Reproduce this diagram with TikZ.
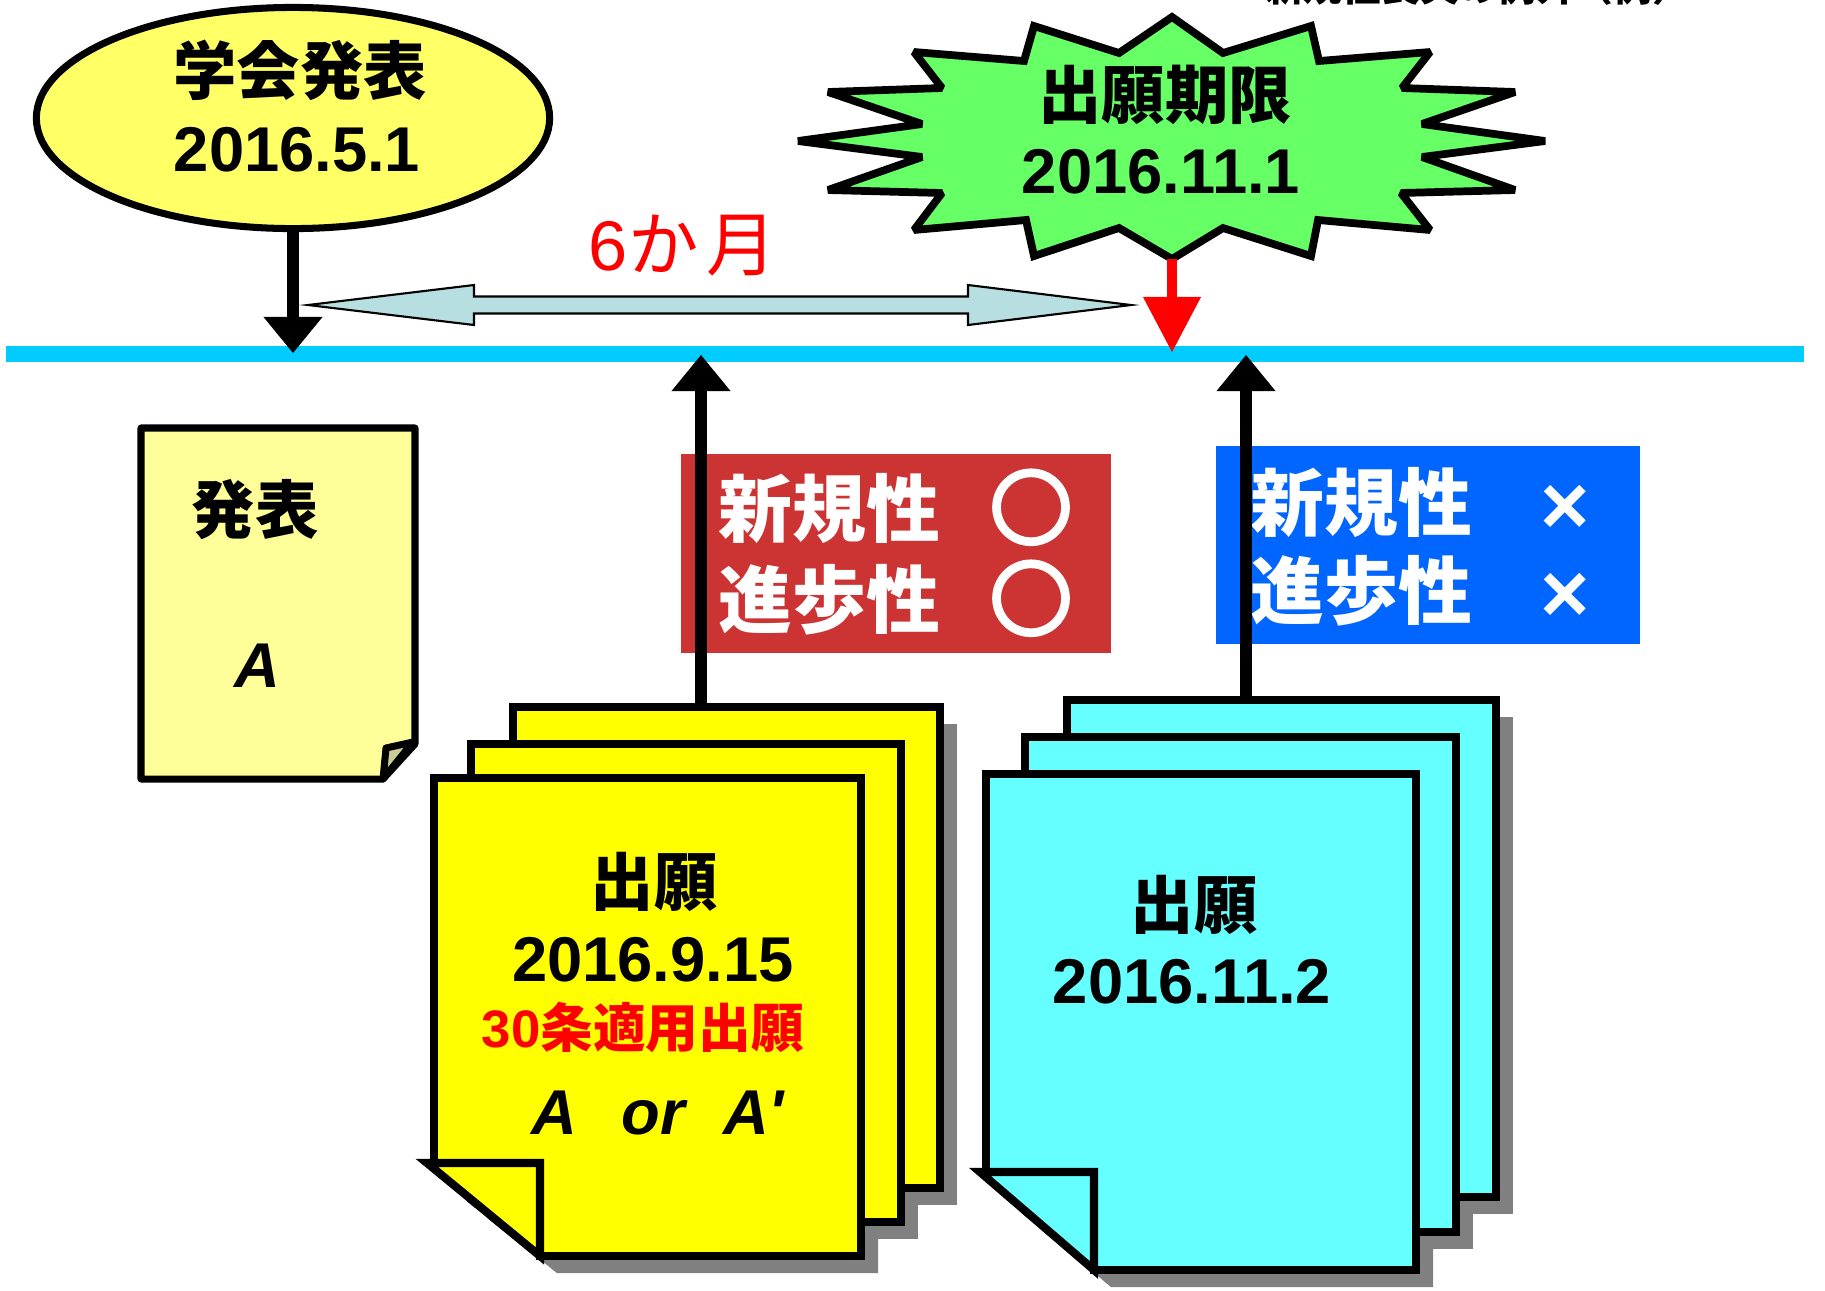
\documentclass[tikz,border=0pt]{standalone}
\usepackage{fontspec}
\setmainfont{Liberation Sans}
\newfontfamily\jp{Noto Sans CJK JP}
\newfontfamily\jpring{Noto Sans CJK JP}[FakeBold=6]
\usetikzlibrary{shapes.geometric, arrows.meta, positioning}

\definecolor{linecyan}{HTML}{00CCFF}
\definecolor{talkyellow}{HTML}{FFFF66}
\definecolor{limitgreen}{HTML}{66FF66}
\definecolor{spanblue}{HTML}{B7DEE0}
\definecolor{okred}{HTML}{CC3333}
\definecolor{ngblue}{HTML}{0066FF}
\definecolor{pubyellow}{HTML}{FFFF99}
\definecolor{pubflap}{HTML}{CCCC99}
\definecolor{appyellow}{HTML}{FFFF00}
\definecolor{appcyan}{HTML}{66FFFF}
\definecolor{shadowgray}{HTML}{808080}

\tikzset{
  datefont/.style={font=\fontsize{18}{22}\selectfont\bfseries, anchor=base, inner sep=0pt},
  boxfont/.style={font=\fontsize{21}{25}\selectfont\bfseries\jp, text=white, anchor=base west, inner sep=0pt},
  ringfont/.style={font=\fontsize{23}{27}\selectfont\bfseries\jpring, text=white, anchor=base, inner sep=0pt},
  markfont/.style={font=\fontsize{24}{28}\selectfont\bfseries, text=white, anchor=base, inner sep=0pt},
  sheet/.style={draw=black, line width=2.3pt, line join=miter},
  sheetshadow/.style={fill=shadowgray, shift={(17,17)}},
  timearrow/.style={line width=3.4pt, -{Triangle[width=0.59cm, length=0.36cm, line width=0pt]}}
}

\begin{document}
\begin{tikzpicture}[x=0.01cm, y=-0.01cm]
\useasboundingbox (0,0) rectangle (1825,1290);

% heading, only its foot shows at the top edge
\begin{scope}
\clip (0,0) rectangle (1825,1290);
\node[anchor=base, inner sep=0pt, font=\fontsize{11}{11}\selectfont\bfseries\jp] (heading) at (1478,1) {新規性喪失の例外（例）};
\end{scope}

% time line
\coordinate (tl0) at (6,354);
\coordinate (tl1) at (1804,354);
\draw[linecyan, line width=0.16cm] (tl0) -- (tl1);

% talk
\node[ellipse, draw, line width=2pt, fill=talkyellow, minimum width=5.13cm, minimum height=2.21cm, inner sep=0pt] (talk) at (293,118) {};
\node[datefont] (talkname) at (300,94) {\jp 学会発表};
\node[datefont] (talkdate) at (297,171) {2016.5.1};

% six months span
\coordinate (spanL) at (308,305);
\coordinate (spanR) at (1131,305);
\draw[fill=spanblue, line width=0.6pt] (spanL) -- ++(166,-20) -- ++(0,11.5) -- ++(494,0) -- ++(0,-11.5) -- (spanR) -- ++(-163,20) -- ++(0,-11.5) -- ++(-494,0) -- ++(0,11.5) -- cycle;
\node[anchor=base, inner sep=0pt, text=red, font=\fontsize{20}{24}\selectfont] (span) at (683,270) {6{\jp か\hspace{0.12em}月}};

% deadline
\draw[fill=limitgreen, line width=2.2pt, line join=miter, miter limit=2] (1172,17) -- (1223,53) -- (1311,26) -- (1319,61) -- (1430,52) -- (1402,88) -- (1515,92) -- (1422,124) -- (1545,141) -- (1422,157) -- (1515,190) -- (1401,193) -- (1430,230) -- (1318,220) -- (1311,256) -- (1223,228) -- (1172,259) -- (1119,228) -- (1034,256) -- (1026,220) -- (914,230) -- (942,193) -- (828,190) -- (922,157) -- (798,141) -- (922,124) -- (828,92) -- (942,88) -- (914,52) -- (1024,61) -- (1034,26) -- (1119,53) -- cycle;
\coordinate (limitfoot) at (1172,259);
\node[datefont] (limitname) at (1165,118) {\jp 出願期限};
\node[datefont] (limitdate) at (1161,193) {2016.11.1};

% verdict boxes
\node[fill=okred, minimum width=4.3cm, minimum height=1.99cm, inner sep=0pt, anchor=north west] (okbox) at (680,453) {};
\node[boxfont] (okA) at (718,536) {新規性};
\node[ringfont] (okAmark) at (1031,538) {○};
\node[boxfont] (okB) at (718,627) {進歩性};
\node[ringfont] (okBmark) at (1031,629) {○};

\node[fill=ngblue, minimum width=4.24cm, minimum height=1.98cm, inner sep=0pt, anchor=north west] (ngbox) at (1215,445) {};
\node[boxfont] (ngA) at (1250,530) {新規性};
\node[markfont] (ngAmark) at (1565,534) {×};
\node[boxfont] (ngB) at (1250,618) {進歩性};
\node[markfont] (ngBmark) at (1565,622) {×};

% published paper
\draw[fill=pubyellow, line width=2pt, line join=round] (141,428) -- (415,428) -- (415,744) -- (383,779) -- (141,779) -- cycle;
\draw[fill=pubflap, line width=2pt, line join=round] (386,748) -- (413,742) -- (383,779) -- cycle;
\node[datefont] (pubname) at (255,533) {\jp 発表};
\node[anchor=base, inner sep=0pt, font=\fontsize{18}{22}\selectfont\bfseries\itshape] (pubtext) at (257,687) {A};

% shadows of the applications
\fill[sheetshadow] (434,778) -- (861,778) -- (861,1256) -- (540,1256) -- (427,1163) -- cycle;
\fill[sheetshadow] (513,707) rectangle (940,1188);
\fill[sheetshadow] (471,744) rectangle (901,1222);
\fill[sheetshadow] (986,774) -- (1416,774) -- (1416,1270) -- (1094,1270) -- (980,1172) -- cycle;
\fill[sheetshadow] (1067,700) rectangle (1496,1197);
\fill[sheetshadow] (1025,737) rectangle (1456,1232);

% application within six months
\draw[sheet, fill=appyellow] (513,707) rectangle (940,1188);
\draw[sheet, fill=appyellow] (471,744) rectangle (901,1222);
\fill[white] (420,1163) -- (420,1275) -- (557,1275) -- cycle;
\fill[shadowgray] (427,1163) -- (444,1180) -- (557,1273) -- (540,1256) -- cycle;
\draw[sheet, fill=appyellow] (434,778) -- (861,778) -- (861,1256) -- (540,1256) -- (540,1163) -- (434,1163) -- cycle;
\draw[sheet, fill=appyellow] (427,1163) -- (540,1163) -- (540,1256) -- cycle;
\node[datefont] (appAname) at (654,905) {\jp 出願};
\node[datefont] (appAdate) at (653,981) {2016.9.15};
\node[anchor=base, inner sep=0pt, text=red, font=\fontsize{15}{18}\selectfont\bfseries] (appArule) at (643,1047) {30{\jp 条適用出願}};
\node[anchor=base, inner sep=0pt, font=\fontsize{18}{22}\selectfont\bfseries\itshape] (appAtext) at (658,1134) {A\hspace{0.7em}or\hspace{0.6em}A\textquotesingle};

% application after the deadline
\draw[sheet, fill=appcyan] (1067,700) rectangle (1496,1197);
\draw[sheet, fill=appcyan] (1025,737) rectangle (1456,1232);
\fill[white] (973,1172) -- (973,1289) -- (1111,1289) -- cycle;
\fill[shadowgray] (980,1172) -- (997,1189) -- (1111,1287) -- (1094,1270) -- cycle;
\draw[sheet, fill=appcyan] (986,774) -- (1416,774) -- (1416,1270) -- (1094,1270) -- (1094,1172) -- (986,1172) -- cycle;
\draw[sheet, fill=appcyan] (980,1172) -- (1094,1172) -- (1094,1270) -- cycle;
\node[datefont] (appBname) at (1194,928) {\jp 出願};
\node[datefont] (appBdate) at (1192,1003) {2016.11.2};

% arrows to the time line
\coordinate (t1) at (293,353);
\draw[timearrow] (talk.south) -- (t1);
\coordinate (t2) at (1172,352);
\draw[red, line width=2.9pt, -{Triangle[width=0.58cm, length=0.55cm, line width=0pt]}] (limitfoot) -- (t2);
\coordinate (appAtop) at (701,707);
\coordinate (t3) at (701,355);
\draw[timearrow] (appAtop) -- (t3);
\coordinate (appBtop) at (1246,700);
\coordinate (t4) at (1246,355);
\draw[timearrow] (appBtop) -- (t4);
\end{tikzpicture}
\end{document}
